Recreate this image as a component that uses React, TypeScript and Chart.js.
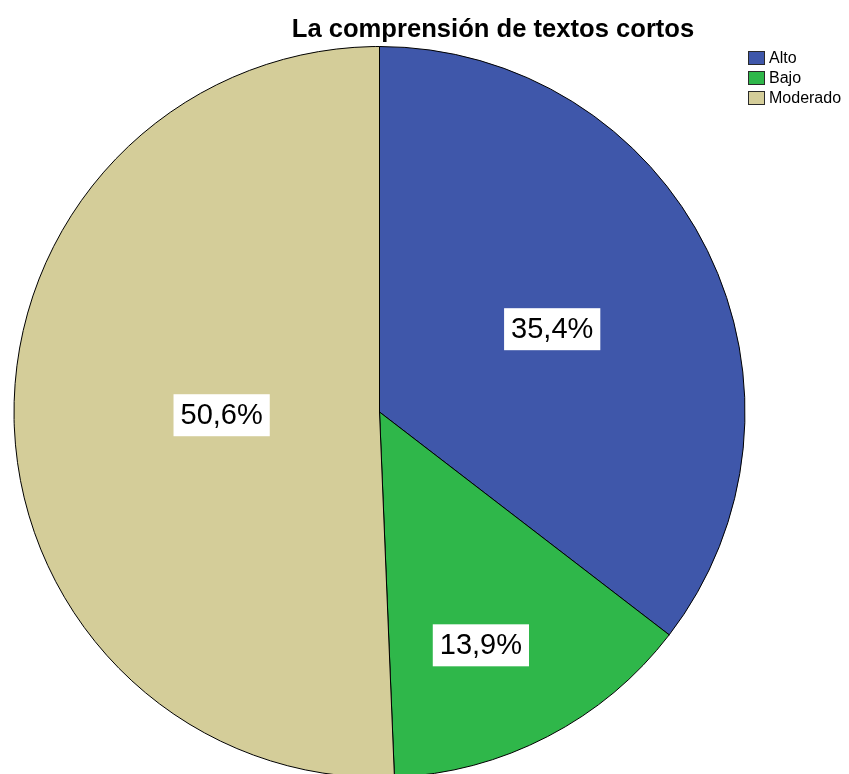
import React, { useEffect, useRef } from "react";
import { Chart, registerables } from "chart.js";

Chart.register(...registerables);

const categories = ["Alto", "Bajo", "Moderado"];
const percentages = [35.4, 13.9, 50.6];
const valueLabels = ["35,4%", "13,9%", "50,6%"];
const sliceColors = ["#3f57aa", "#2fb74a", "#d4cd99"];
const chartTitle = "La comprensión de textos cortos";

// label placement (style): fraction of radius, angle tweak in degrees
const labelFrac = [0.524, 0.696, 0.432];
const labelAngleTweak = [0.6, 3.9, 0];

const W = 849;
const H = 774;

const overlayPlugin = {
  id: "overlay",
  afterDraw(chart: any) {
    const ctx = chart.ctx as CanvasRenderingContext2D;
    const meta = chart.getDatasetMeta(0);
    ctx.save();
    // slice value labels
    ctx.font = "29px 'Liberation Sans', Arial, sans-serif";
    ctx.textAlign = "center";
    ctx.textBaseline = "middle";
    meta.data.forEach((arc: any, i: number) => {
      const mid = (arc.startAngle + arc.endAngle) / 2 + (labelAngleTweak[i] * Math.PI) / 180;
      const r = arc.outerRadius * labelFrac[i];
      const x = arc.x + Math.cos(mid) * r;
      const y = arc.y + Math.sin(mid) * r;
      const tw = ctx.measureText(valueLabels[i]).width;
      const bw = tw + 14;
      const bh = 42;
      ctx.fillStyle = "#ffffff";
      ctx.fillRect(x - bw / 2, y - bh / 2, bw, bh);
      ctx.fillStyle = "#000000";
      ctx.fillText(valueLabels[i], x, y + 1);
    });
    // title
    ctx.font = "bold 25.6px 'Liberation Sans', Arial, sans-serif";
    ctx.textAlign = "center";
    ctx.textBaseline = "alphabetic";
    ctx.fillStyle = "#000000";
    ctx.fillText(chartTitle, 493, 36.5);
    // legend
    ctx.font = "16px 'Liberation Sans', Arial, sans-serif";
    ctx.textAlign = "left";
    ctx.textBaseline = "middle";
    categories.forEach((c, i) => {
      const y = 51 + i * 20;
      ctx.fillStyle = sliceColors[i];
      ctx.fillRect(748, y, 17, 14);
      ctx.strokeStyle = "#2a2a2a";
      ctx.lineWidth = 1;
      ctx.strokeRect(748.5, y + 0.5, 16, 13);
      ctx.fillStyle = "#000000";
      ctx.fillText(c, 769, y + 7.5);
    });
    ctx.restore();
  },
};

export default function App() {
  const ref = useRef<HTMLCanvasElement | null>(null);
  useEffect(() => {
    if (!ref.current) return;
    const chart = new Chart(ref.current, {
      type: "pie",
      data: {
        labels: categories,
        datasets: [
          {
            data: percentages,
            backgroundColor: sliceColors,
            borderColor: "#000000",
            borderWidth: 1,
            clip: false,
          } as any,
        ],
      },
      options: {
        responsive: false,
        animation: false,
        radius: 365.5,
        layout: { padding: { top: 50, left: 0, right: 90, bottom: 0 } },
        plugins: {
          legend: { display: false },
          title: { display: false },
          tooltip: { enabled: false },
        },
        events: [],
      } as any,
      plugins: [overlayPlugin],
    });
    return () => chart.destroy();
  }, []);
  return (
    <div style={{ position: "absolute", left: 0, top: 0, width: W, height: H, background: "#fff" }}>
      <canvas ref={ref} width={W} height={H} style={{ width: W, height: H, display: "block" }} />
    </div>
  );
}
